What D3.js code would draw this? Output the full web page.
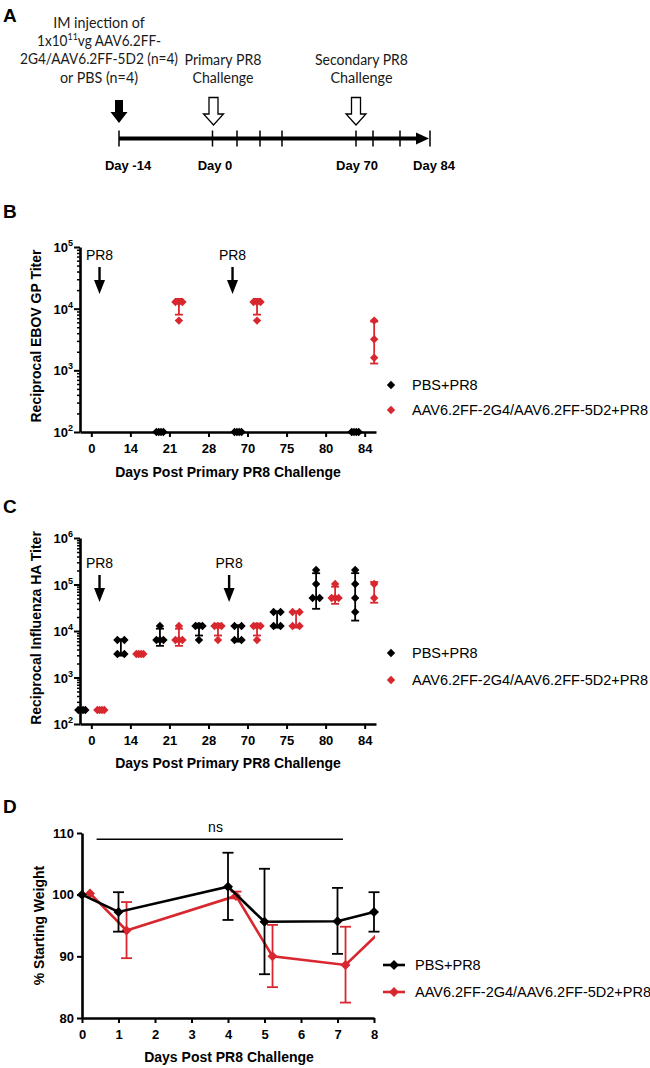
<!DOCTYPE html>
<html><head><meta charset="utf-8">
<script src="https://cdn.jsdelivr.net/npm/d3@7"></script>
<style>body{margin:0;background:#fff}svg{display:block}</style>
</head><body><svg id="c" width="650" height="1068"></svg>
<script>
// ---------------- DATA ----------------
const seriesNames = ["PBS+PR8", "AAV6.2FF-2G4/AAV6.2FF-5D2+PR8"];
const categories = ["0", "14", "21", "28", "70", "75", "80", "84"];

// Panel B: reciprocal EBOV GP titer (individual mice)
const ebovPBS = [[], [], [100, 100, 100, 100], [], [100, 100, 100, 100], [], [], [100, 100, 100, 100]];
const ebovAAV = [[], [], [12800, 12800, 12800, 6400], [], [12800, 12800, 12800, 6400], [], [], [6400, 3200, 1600]];

// Panel C: reciprocal influenza HA titer (individual mice)
const fluPBS = [[200, 200, 200, 200], [6400, 6400, 3200, 3200], [12800, 6400, 6400, 6400], [12800, 12800, 12800, 6400],
  [12800, 12800, 6400, 6400], [25600, 25600, 12800, 12800], [204800, 102400, 51200, 51200], [204800, 102400, 51200, 25600]];
const fluAAV = [[200, 200, 200, 200], [3200, 3200, 3200, 3200], [12800, 6400, 6400, 6400], [12800, 12800, 12800, 6400],
  [12800, 12800, 12800, 6400], [25600, 25600, 12800, 12800], [102400, 51200, 51200, 51200], [102400, 51200]];

const ebovTickExps = [2, 3, 4, 5];
const fluTickExps = [2, 3, 4, 5, 6];

// Panel D: % starting weight
const weightDays = [0, 1, 4, 5, 7, 8];
const weightPBS = [100, 97.2, 101.3, 95.6, 95.7, 97.2];
const weightPBSLow = [null, 94.0, 95.9, 87.1, 90.4, 94.0];
const weightPBSHigh = [null, 100.4, 106.8, 104.2, 101.1, 100.4];
const weightAAV = [100.2, 94.2, 99.8, 90.0, 88.6, 94.3];
const weightAAVLow = [null, 89.7, 99.4, 85.0, 82.5, 89.5];
const weightAAVHigh = [null, 98.8, 100.5, 95.1, 94.8, 99.0];
const weightXTicks = [0, 1, 2, 3, 4, 5, 6, 7, 8];
const weightYTicks = [80, 90, 100, 110];
const nsSpan = [0.4, 7.15];
const nsLevel = 109;

// Panel A: timeline
const timelineDays = [-14, 0, 7, 14, 21, 70, 75, 80, 84];
const timelineLabelDays = [-14, 0, 70, 84];
const injectionLines = ["IM injection of", "1x10|11|vg AAV6.2FF-", "2G4/AAV6.2FF-5D2 (n=4)", "or PBS (n=4)"];
const primaryLines = ["Primary PR8", "Challenge"];
const secondaryLines = ["Secondary PR8", "Challenge"];

// ---------------- DRAWING ----------------
const FONT = "'Liberation Sans', Arial, Helvetica, sans-serif";
const RED = "#d8272e";
const COLORS = ["#000000", RED];
const svg = d3.select("#c");
svg.append("rect").attr("width", 650).attr("height", 1068).attr("fill", "#fff");

const diamond = r => `M0,${-r}L${r},0L0,${r}L${-r},0Z`;

// panel letters
[["A", 22], ["B", 218], ["C", 513], ["D", 813]].forEach(([t, y]) => {
  svg.append("text").attr("x", 3).attr("y", y).text(t)
    .attr("font-family", FONT).attr("font-weight", "bold").attr("font-size", 19);
});

// ---------- Panel A ----------
(function () {
  const g = svg.append("g");
  const tl = d3.scaleLinear().domain(timelineDays).range([119, 212.5, 237, 260, 282, 356, 373, 400, 430]);
  const yLine = 138.5;
  g.append("line").attr("x1", tl(-14)).attr("x2", tl(84) - 12).attr("y1", yLine).attr("y2", yLine)
    .attr("stroke", "#000").attr("stroke-width", 4);
  g.append("path").attr("d", `M${tl(84) - 14},${yLine - 6}L${tl(84) - 1},${yLine}L${tl(84) - 14},${yLine + 6}Z`).attr("fill", "#000");
  timelineDays.forEach(d => {
    g.append("line").attr("x1", tl(d)).attr("x2", tl(d)).attr("y1", yLine - 8).attr("y2", yLine + 8)
      .attr("stroke", "#000").attr("stroke-width", 1.5);
  });
  const labelDx = {"-14": 9, "0": 2.5, "70": 1, "84": 4};
  timelineLabelDays.forEach(d => {
    g.append("text").attr("x", tl(d) + labelDx[d]).attr("y", 170).attr("text-anchor", "middle")
      .attr("font-family", FONT).attr("font-weight", "bold").attr("font-size", 13).text("Day " + d);
  });
  const tf = "Lato, 'Open Sans', sans-serif";
  const injWidths = [91.6, 124, 158, 78];
  injectionLines.forEach((ln, i) => {
    const t = g.append("text").attr("x", 99).attr("y", 28 + i * 18.2).attr("text-anchor", "middle")
      .attr("font-family", tf).attr("font-size", 14.5).attr("fill", "#1a1a1a")
      .attr("textLength", injWidths[i]).attr("lengthAdjust", "spacingAndGlyphs");
    const parts = ln.split("|");
    if (parts.length === 3) {
      t.append("tspan").text(parts[0]);
      t.append("tspan").attr("dy", -6).attr("font-size", 9.5).text(parts[1]);
      t.append("tspan").attr("dy", 6).text(parts[2]);
    } else t.text(ln);
  });
  [[primaryLines, 223, [77, 61]], [secondaryLines, 361.5, [93, 62]]].forEach(([lines, cx, ws]) => {
    lines.forEach((ln, i) => {
      g.append("text").attr("x", cx).attr("y", 65 + i * 17.5).attr("text-anchor", "middle")
        .attr("font-family", tf).attr("font-size", 14.5).attr("fill", "#1a1a1a")
        .attr("textLength", ws[i]).attr("lengthAdjust", "spacingAndGlyphs").text(ln);
    });
  });
  // filled arrow at day -14
  const bx = tl(-14);
  g.append("path").attr("d", `M${bx - 4},100L${bx + 4},100L${bx + 4},112L${bx + 8.5},112L${bx},123L${bx - 8.5},112L${bx - 4},112Z`).attr("fill", "#000");
  // hollow arrows
  [tl(0) + 1, tl(70)].forEach(hx => {
    g.append("path").attr("d", `M${hx - 4.5},97.5L${hx + 4.5},97.5L${hx + 4.5},114L${hx + 10},114L${hx},125L${hx - 10},114L${hx - 4.5},114Z`)
      .attr("fill", "#fff").attr("stroke", "#000").attr("stroke-width", 1.3);
  });
})();

// ---------- dot plot panels (B, C) ----------
function spread(values) {
  const counts = d3.rollup(values, v => v.length, d => d);
  const seen = new Map();
  return values.map(v => {
    const n = counts.get(v); const i = seen.get(v) || 0; seen.set(v, i + 1);
    const step = n > 1 ? Math.min(7, 7 / (n - 1)) : 0;
    return {v, dx: (i - (n - 1) / 2) * step};
  });
}

function dotPanel(o) {
  const g = svg.append("g");
  const x = d3.scalePoint().domain(categories).range([80, 376]).padding(0.29);
  const sub = d3.scalePoint().domain(seriesNames).range([-9.5, 9.5]);
  const y = d3.scaleLog().domain(o.domain).range(o.range);
  const axisX = 80, axisY = o.range[0];

  const majors = o.exps.map(e => Math.pow(10, e));
  const minors = [];
  for (let i = 0; i < o.exps.length - 1; i++) for (let k = 2; k <= 9; k++) minors.push(k * Math.pow(10, o.exps[i]));

  const gm = g.append("g").attr("transform", `translate(${axisX},0)`)
    .call(d3.axisLeft(y).tickValues(minors).tickSize(3).tickFormat(""));
  gm.select(".domain").remove();
  gm.selectAll(".tick line").attr("stroke-width", 1.5);
  const gy = g.append("g").attr("transform", `translate(${axisX},0)`)
    .call(d3.axisLeft(y).tickValues(majors).tickSize(6).tickSizeOuter(0).tickFormat(""));
  gy.select(".domain").attr("stroke-width", 2.6);
  gy.selectAll(".tick line").attr("stroke-width", 2);
  majors.forEach((v, i) => {
    const t = g.append("text").attr("x", axisX - 7).attr("y", y(v) + 5).attr("text-anchor", "end")
      .attr("font-family", FONT).attr("font-weight", "bold").attr("font-size", 13);
    t.append("tspan").text("10");
    t.append("tspan").attr("dy", -6).attr("font-size", 9).text(o.exps[i]);
  });

  const gx = g.append("g").attr("transform", `translate(0,${axisY})`)
    .call(d3.axisBottom(x).tickSize(5).tickSizeOuter(0));
  gx.select(".domain").attr("stroke-width", 2.6);
  gx.selectAll(".tick line").attr("stroke-width", 2);
  gx.selectAll(".tick text").attr("y", 12).attr("font-family", FONT).attr("font-weight", "bold").attr("font-size", 13).attr("fill", "#000");

  // data
  [o.pbs, o.aav].forEach((series, s) => {
    series.forEach((vals, ci) => {
      if (!vals.length) return;
      const cx = x(categories[ci]) + sub(seriesNames[s]);
      const m = d3.mean(vals), sd = d3.deviation(vals) || 0;
      if (sd > 0) {
        const lo = Math.max(m - sd, o.domain[0]), hi = m + sd;
        g.append("line").attr("x1", cx).attr("x2", cx).attr("y1", y(lo)).attr("y2", y(hi))
          .attr("stroke", COLORS[s]).attr("stroke-width", 1.8);
        [lo, hi].forEach(v => g.append("line").attr("x1", cx - 4).attr("x2", cx + 4).attr("y1", y(v)).attr("y2", y(v))
          .attr("stroke", COLORS[s]).attr("stroke-width", 1.8));
      }
      spread(vals).forEach(p => {
        g.append("path").attr("d", diamond(4.2)).attr("transform", `translate(${cx + p.dx},${y(p.v)})`).attr("fill", COLORS[s]);
      });
    });
  });

  // PR8 arrows
  o.arrows.forEach(a => {
    const ax = x(a.cat) + a.dx;
    g.append("text").attr("x", ax).attr("y", o.arrowTop - 7).attr("text-anchor", "middle")
      .attr("font-family", FONT).attr("font-size", 14).text("PR8");
    g.append("line").attr("x1", ax).attr("x2", ax).attr("y1", o.arrowTop).attr("y2", o.arrowTop + 15)
      .attr("stroke", "#000").attr("stroke-width", 2.4);
    g.append("path").attr("d", `M${ax - 5.5},${o.arrowTop + 13}L${ax + 5.5},${o.arrowTop + 13}L${ax},${o.arrowTop + 27}Z`).attr("fill", "#000");
  });

  // legend
  seriesNames.forEach((nm, i) => {
    const ly = o.legendY[i];
    g.append("path").attr("d", diamond(4.2)).attr("transform", `translate(391,${ly})`).attr("fill", COLORS[i]);
    g.append("text").attr("x", 412).attr("y", ly + 5).attr("font-family", FONT).attr("font-size", 14.5).text(nm);
  });

  // titles
  g.append("text").attr("x", 228).attr("y", o.xTitleY).attr("text-anchor", "middle")
    .attr("font-family", FONT).attr("font-weight", "bold").attr("font-size", 14).text("Days Post Primary PR8 Challenge");
  g.append("text").attr("transform", `translate(41,${o.yTitleC}) rotate(-90)`).attr("text-anchor", "middle")
    .attr("font-family", FONT).attr("font-weight", "bold").attr("font-size", 14).text(o.yTitle);
}

dotPanel({
  domain: [1e2, 1e5], range: [432, 247], exps: ebovTickExps, pbs: ebovPBS, aav: ebovAAV,
  arrows: [{cat: "0", dx: 8.2}, {cat: "70", dx: -15}], arrowTop: 267,
  legendY: [385, 410], xTitleY: 477, yTitleC: 336, yTitle: "Reciprocal EBOV GP Titer"
});
dotPanel({
  domain: [1e2, 1e6], range: [724, 538], exps: fluTickExps, pbs: fluPBS, aav: fluAAV,
  arrows: [{cat: "0", dx: 8.2}, {cat: "70", dx: -18.4}], arrowTop: 575,
  legendY: [653, 680], xTitleY: 768, yTitleC: 628, yTitle: "Reciprocal Influenza HA Titer"
});

// ---------- Panel D ----------
(function () {
  const g = svg.append("g");
  const x = d3.scaleLinear().domain([0, 8]).range([82, 374]);
  const y = d3.scaleLinear().domain([80, 110]).range([1018, 833]);
  const gx = g.append("g").attr("transform", `translate(0,${y(80)})`)
    .call(d3.axisBottom(x).tickValues(weightXTicks).tickSize(5).tickSizeOuter(0).tickFormat(d3.format("d")));
  const gy = g.append("g").attr("transform", `translate(${x(0)},0)`)
    .call(d3.axisLeft(y).tickValues(weightYTicks).tickSize(5).tickSizeOuter(0));
  [gx, gy].forEach(a => {
    a.select(".domain").attr("stroke-width", 2.6);
    a.selectAll(".tick line").attr("stroke-width", 2);
    a.selectAll(".tick text").attr("font-family", FONT).attr("font-weight", "bold").attr("font-size", 13).attr("fill", "#000");
  });
  gx.selectAll(".tick text").attr("y", 12);
  gy.selectAll(".tick text").attr("x", -8);

  const clipId = "clipD";
  g.append("clipPath").attr("id", clipId).append("rect").attr("x", 0).attr("y", 800).attr("width", x(8) + 1).attr("height", 260);

  const series = [
    {vals: weightAAV, lo: weightAAVLow, hi: weightAAVHigh, off: 0.22, c: COLORS[1], clip: true},
    {vals: weightPBS, lo: weightPBSLow, hi: weightPBSHigh, off: 0, c: COLORS[0], clip: false}
  ];
  series.forEach(s => {
    const sg = g.append("g");
    if (s.clip) sg.attr("clip-path", `url(#${clipId})`);
    weightDays.forEach((d, i) => {
      if (s.lo[i] == null) return;
      const cx = x(d + s.off);
      sg.append("line").attr("x1", cx).attr("x2", cx).attr("y1", y(s.lo[i])).attr("y2", y(s.hi[i])).attr("stroke", s.c).attr("stroke-width", 1.8);
      [s.lo[i], s.hi[i]].forEach(v => sg.append("line").attr("x1", cx - 5.5).attr("x2", cx + 5.5).attr("y1", y(v)).attr("y2", y(v))
        .attr("stroke", s.c).attr("stroke-width", 1.8));
    });
    const line = d3.line().x((v, i) => x(weightDays[i] + s.off)).y(v => y(v));
    sg.append("path").attr("d", line(s.vals)).attr("fill", "none").attr("stroke", s.c).attr("stroke-width", 2.6);
    s.vals.forEach((v, i) => sg.append("path").attr("d", diamond(5)).attr("transform", `translate(${x(weightDays[i] + s.off)},${y(v)})`).attr("fill", s.c));
  });

  // ns bracket
  g.append("line").attr("x1", x(nsSpan[0])).attr("x2", x(nsSpan[1])).attr("y1", y(nsLevel)).attr("y2", y(nsLevel))
    .attr("stroke", "#000").attr("stroke-width", 1.5);
  g.append("text").attr("x", 215.5).attr("y", y(nsLevel) - 7).attr("text-anchor", "middle")
    .attr("font-family", FONT).attr("font-size", 14).text("ns");

  // legend
  seriesNames.forEach((nm, i) => {
    const ly = [965, 992][i];
    g.append("line").attr("x1", 383).attr("x2", 405).attr("y1", ly).attr("y2", ly).attr("stroke", COLORS[i]).attr("stroke-width", 2.6);
    g.append("path").attr("d", diamond(5)).attr("transform", `translate(394,${ly})`).attr("fill", COLORS[i]);
    g.append("text").attr("x", 415).attr("y", ly + 5).attr("font-family", FONT).attr("font-size", 14.5).text(nm);
  });

  g.append("text").attr("x", 229).attr("y", 1062).attr("text-anchor", "middle")
    .attr("font-family", FONT).attr("font-weight", "bold").attr("font-size", 14).text("Days Post PR8 Challenge");
  g.append("text").attr("transform", `translate(44,${(y(80) + y(110)) / 2}) rotate(-90)`).attr("text-anchor", "middle")
    .attr("font-family", FONT).attr("font-weight", "bold").attr("font-size", 14).text("% Starting Weight");
})();
</script></body></html>
